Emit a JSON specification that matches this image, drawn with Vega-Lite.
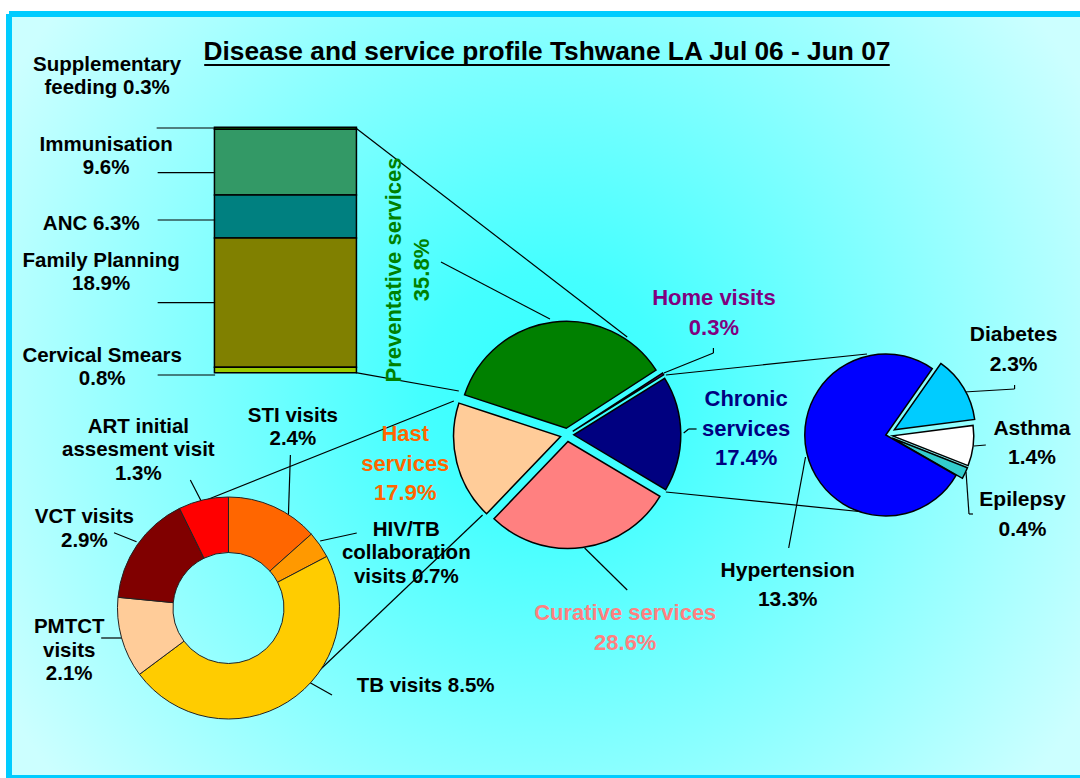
{
  "$schema": "https://vega.github.io/schema/vega-lite/v6.json",
  "width": 1071,
  "height": 764,
  "autosize": {"type": "none"},
  "padding": {"left": 9, "top": 14, "right": 0, "bottom": 0},
  "background": "#ffffff",
  "config": {
    "view": {
      "fill": {
        "gradient": "radial",
        "x1": 0.5, "y1": 0.5, "x2": 0.5, "y2": 0.5, "r1": 0, "r2": 0.58,
        "stops": [
          {"offset": 0, "color": "#33ffff"},
          {"offset": 0.2, "color": "#44ffff"},
          {"offset": 1, "color": "#ccffff"}
        ]
      },
      "stroke": "#00ccff",
      "strokeWidth": 6,
      "strokeDash": [1071, 764, 1835, 0]
    }
  },
  "datasets": {
    "main": [
      {"name": "Preventative services", "value": 35.8},
      {"name": "Home visits", "value": 0.3},
      {"name": "Chronic services", "value": 17.4},
      {"name": "Curative services", "value": 28.6},
      {"name": "Hast services", "value": 17.9}
    ],
    "chronic": [
      {"name": "Diabetes", "value": 2.3},
      {"name": "Asthma", "value": 1.4},
      {"name": "Epilepsy", "value": 0.4},
      {"name": "Hypertension", "value": 13.3}
    ],
    "hast": [
      {"name": "STI visits", "value": 2.4},
      {"name": "HIV/TB collaboration visits", "value": 0.7},
      {"name": "TB visits", "value": 8.5},
      {"name": "PMTCT visits", "value": 2.1},
      {"name": "VCT visits", "value": 2.9},
      {"name": "ART initial assesment visit", "value": 1.3}
    ],
    "prev": [
      {"name": "Supplementary feeding", "value": 0.3},
      {"name": "Immunisation", "value": 9.6},
      {"name": "ANC", "value": 6.3},
      {"name": "Family Planning", "value": 18.9},
      {"name": "Cervical Smears", "value": 0.8}
    ],
    "labelsSmall": [
      {"t": ["Supplementary", "feeding 0.3%"], "x": 103, "y": 64.5},
      {"t": ["Immunisation", "9.6%"], "x": 102, "y": 144.5},
      {"t": "ANC 6.3%", "x": 87, "y": 223.9},
      {"t": ["Family Planning", "18.9%"], "x": 97, "y": 260.5},
      {"t": ["Cervical Smears", "0.8%"], "x": 98, "y": 355.5},
      {"t": ["ART initial", "assesment visit", "1.3%"], "x": 134.5, "y": 426.9},
      {"t": ["STI visits", "2.4%"], "x": 290.5, "y": 415.5},
      {"t": ["VCT visits", "2.9%"], "x": 80, "y": 517.2},
      {"t": ["HIV/TB", "collaboration", "visits 0.7%"], "x": 405, "y": 529.9},
      {"t": ["PMTCT", "visits", "2.1%"], "x": 64.7, "y": 627.2},
      {"t": "TB visits 8.5%", "x": 424.5, "y": 685.5}
    ],
    "labelsRight": [
      {"t": ["Diabetes", "2.3%"], "x": 1018, "y": 335.4},
      {"t": ["Asthma", "1.4%"], "x": 1036.5, "y": 428.7},
      {"t": ["Epilepsy", "0.4%"], "x": 1027, "y": 500.4},
      {"t": ["Hypertension", "13.3%"], "x": 790, "y": 570.7}
    ],
    "labelsMain": [
      {"name": "Home visits", "t": ["Home visits", "0.3%"], "x": 715.5, "y": 298.4},
      {"name": "Chronic services", "t": ["Chronic", "services", "17.4%"], "x": 748, "y": 399.4},
      {"name": "Hast services", "t": ["Hast", "services", "17.9%"], "x": 404, "y": 434.1},
      {"name": "Curative services", "t": ["Curative services", "28.6%"], "x": 626, "y": 613.4}
    ],
    "labelPrev": [
      {"t": ["Preventative services", "35.8%"], "x": 393, "y": 270}
    ],
    "title": [
      {"t": "Disease and service profile Tshwane LA Jul 06 - Jun 07", "x": 547, "y": 52.2}
    ],
    "underline": [
      {"x": 201, "y": 65, "x2": 893, "y2": 65}
    ],
    "leaders": [
      {"x": 153, "y": 128, "x2": 212, "y2": 128},
      {"x": 154, "y": 172.7, "x2": 212, "y2": 172.7},
      {"x": 154, "y": 220, "x2": 212, "y2": 220},
      {"x": 154, "y": 302.7, "x2": 212, "y2": 302.7},
      {"x": 154, "y": 375, "x2": 212, "y2": 375},
      {"x": 354, "y": 128, "x2": 628, "y2": 337},
      {"x": 354, "y": 372.7, "x2": 458, "y2": 391},
      {"x": 440, "y": 262, "x2": 550, "y2": 319},
      {"x": 665, "y": 373, "x2": 715, "y2": 353},
      {"x": 715, "y": 353, "x2": 715, "y2": 348},
      {"x": 667, "y": 375, "x2": 870, "y2": 354},
      {"x": 685, "y": 433, "x2": 690, "y2": 429},
      {"x": 690, "y": 429, "x2": 698, "y2": 429},
      {"x": 667, "y": 492, "x2": 877, "y2": 513},
      {"x": 585, "y": 548, "x2": 628, "y2": 590},
      {"x": 453, "y": 401, "x2": 188, "y2": 506},
      {"x": 482, "y": 515, "x2": 305, "y2": 682},
      {"x": 303, "y": 680, "x2": 330, "y2": 695},
      {"x": 288, "y": 455, "x2": 286, "y2": 515},
      {"x": 187, "y": 480, "x2": 200, "y2": 505},
      {"x": 110, "y": 532.7, "x2": 132.7, "y2": 541.7},
      {"x": 97, "y": 638, "x2": 125, "y2": 638},
      {"x": 318, "y": 541, "x2": 355, "y2": 533},
      {"x": 968, "y": 392, "x2": 1019, "y2": 389},
      {"x": 1019, "y": 389, "x2": 1019, "y2": 385},
      {"x": 978, "y": 446, "x2": 990, "y2": 445},
      {"x": 970, "y": 472, "x2": 973, "y2": 514},
      {"x": 973, "y": 514, "x2": 977, "y2": 514},
      {"x": 808, "y": 457, "x2": 791, "y2": 548}
    ]
  },
  "resolve": {"scale": {"y": "independent", "theta": "independent", "color": "independent"}},
  "layer": [
    {
      "data": {"name": "prev"},
      "transform": [{"window": [{"op": "row_number", "as": "seq"}]}],
      "mark": {"type": "bar", "orient": "vertical", "width": 142, "stroke": "#000000", "strokeWidth": 1.5},
      "encoding": {
        "x": {"datum": 283, "type": "quantitative", "scale": {"domain": [9, 1080], "range": [0, 1071], "nice": false, "zero": false}, "axis": null},
        "y": {"field": "value", "type": "quantitative", "stack": "zero", "scale": {"domain": [0, 35.9], "range": [358.7, 113.3], "nice": false, "zero": false}, "axis": null},
        "order": {"field": "seq", "type": "quantitative", "sort": "descending"},
        "color": {"field": "name", "type": "nominal", "scale": {"domain": ["Supplementary feeding", "Immunisation", "ANC", "Family Planning", "Cervical Smears"], "range": ["#00cc00", "#339966", "#008080", "#808000", "#99cc00"]}, "legend": null}
      }
    },
    {
      "data": {"name": "leaders"},
      "mark": {"type": "rule", "stroke": "#000000", "strokeWidth": 1.2},
      "encoding": {
        "x": {"field": "x", "type": "quantitative", "scale": {"domain": [9, 1080], "range": [0, 1071], "nice": false, "zero": false}, "axis": null},
        "x2": {"field": "x2"},
        "y": {"field": "y", "type": "quantitative", "scale": {"domain": [14, 778], "range": [0, 764], "nice": false, "zero": false}, "axis": null},
        "y2": {"field": "y2"}
      }
    },
    {
      "data": {"name": "underline"},
      "mark": {"type": "rule", "stroke": "#000000", "strokeWidth": 2.2},
      "encoding": {
        "x": {"field": "x", "type": "quantitative", "scale": {"domain": [9, 1080], "range": [0, 1071], "nice": false, "zero": false}, "axis": null},
        "x2": {"field": "x2"},
        "y": {"field": "y", "type": "quantitative", "scale": {"domain": [14, 778], "range": [0, 764], "nice": false, "zero": false}, "axis": null},
        "y2": {"field": "y2"}
      }
    },
    {
      "data": {"name": "main"},
      "transform": [{"window": [{"op": "row_number", "as": "seq"}]}],
      "mark": {
        "type": "arc", "outerRadius": 107, "stroke": "#000000", "strokeWidth": 1.5,
        "xOffset": {"expr": "6.7*sin(5.030 + PI*(datum.value_start + datum.value_end)/100)"},
        "yOffset": {"expr": "-6.7*cos(5.030 + PI*(datum.value_start + datum.value_end)/100)"}
      },
      "encoding": {
        "theta": {"field": "value", "type": "quantitative", "stack": true, "scale": {"range": [5.030, 11.3132]}},
        "order": {"field": "seq", "type": "quantitative"},
        "color": {"field": "name", "type": "nominal", "scale": {"domain": ["Preventative services", "Home visits", "Chronic services", "Curative services", "Hast services"], "range": ["#008000", "#800080", "#000080", "#ff8080", "#ffcc99"]}, "legend": null},
        "x": {"datum": 567.3, "type": "quantitative", "scale": {"domain": [9, 1080], "range": [0, 1071], "nice": false, "zero": false}, "axis": null},
        "y": {"datum": 434.9, "type": "quantitative", "scale": {"domain": [14, 778], "range": [0, 764], "nice": false, "zero": false}, "axis": null}
      }
    },
    {
      "data": {"name": "chronic"},
      "transform": [{"window": [{"op": "row_number", "as": "seq"}]}],
      "mark": {
        "type": "arc", "outerRadius": 81, "stroke": "#000000", "strokeWidth": 1.5,
        "xOffset": {"expr": "(datum.name == 'Diabetes' ? 10 : datum.name == 'Hypertension' ? 0 : 7)*sin(0.6109 + PI*(datum.value_start + datum.value_end)/17.4)"},
        "yOffset": {"expr": "-(datum.name == 'Diabetes' ? 10 : datum.name == 'Hypertension' ? 0 : 7)*cos(0.6109 + PI*(datum.value_start + datum.value_end)/17.4)"}
      },
      "encoding": {
        "theta": {"field": "value", "type": "quantitative", "stack": true, "scale": {"range": [0.6109, 6.8941]}},
        "order": {"field": "seq", "type": "quantitative"},
        "color": {"field": "name", "type": "nominal", "scale": {"domain": ["Diabetes", "Asthma", "Epilepsy", "Hypertension"], "range": ["#00ccff", "#ffffff", "#33cccc", "#0000ff"]}, "legend": null},
        "x": {"datum": 889, "type": "quantitative", "scale": {"domain": [9, 1080], "range": [0, 1071], "nice": false, "zero": false}, "axis": null},
        "y": {"datum": 435, "type": "quantitative", "scale": {"domain": [14, 778], "range": [0, 764], "nice": false, "zero": false}, "axis": null}
      }
    },
    {
      "data": {"name": "hast"},
      "transform": [{"window": [{"op": "row_number", "as": "seq"}]}],
      "mark": {"type": "arc", "outerRadius": 111, "innerRadius": 55.5, "stroke": "#222222", "strokeWidth": 1},
      "encoding": {
        "theta": {"field": "value", "type": "quantitative", "stack": true},
        "order": {"field": "seq", "type": "quantitative"},
        "color": {"field": "name", "type": "nominal", "scale": {"domain": ["STI visits", "HIV/TB collaboration visits", "TB visits", "PMTCT visits", "VCT visits", "ART initial assesment visit"], "range": ["#ff6600", "#ff9900", "#ffcc00", "#ffcc99", "#800000", "#ff0000"]}, "legend": null},
        "x": {"datum": 225.5, "type": "quantitative", "scale": {"domain": [9, 1080], "range": [0, 1071], "nice": false, "zero": false}, "axis": null},
        "y": {"datum": 608, "type": "quantitative", "scale": {"domain": [14, 778], "range": [0, 764], "nice": false, "zero": false}, "axis": null}
      }
    },
    {
      "data": {"name": "labelsSmall"},
      "mark": {"type": "text", "font": "Liberation Sans", "fontWeight": "bold", "fontSize": 20.5, "lineHeight": 23.5, "align": "center", "baseline": "middle", "color": "#000000"},
      "encoding": {
        "text": {"field": "t"},
        "x": {"field": "x", "type": "quantitative", "scale": {"domain": [9, 1080], "range": [0, 1071], "nice": false, "zero": false}, "axis": null},
        "y": {"field": "y", "type": "quantitative", "scale": {"domain": [14, 778], "range": [0, 764], "nice": false, "zero": false}, "axis": null}
      }
    },
    {
      "data": {"name": "labelsRight"},
      "mark": {"type": "text", "font": "Liberation Sans", "fontWeight": "bold", "fontSize": 21, "lineHeight": 29.5, "align": "center", "baseline": "middle", "color": "#000000"},
      "encoding": {
        "text": {"field": "t"},
        "x": {"field": "x", "type": "quantitative", "scale": {"domain": [9, 1080], "range": [0, 1071], "nice": false, "zero": false}, "axis": null},
        "y": {"field": "y", "type": "quantitative", "scale": {"domain": [14, 778], "range": [0, 764], "nice": false, "zero": false}, "axis": null}
      }
    },
    {
      "data": {"name": "labelsMain"},
      "mark": {"type": "text", "font": "Liberation Sans", "fontWeight": "bold", "fontSize": 22, "lineHeight": 29.5, "align": "center", "baseline": "middle"},
      "encoding": {
        "text": {"field": "t"},
        "color": {"field": "name", "type": "nominal", "scale": {"domain": ["Home visits", "Chronic services", "Hast services", "Curative services"], "range": ["#800080", "#000080", "#ff6600", "#ff8080"]}, "legend": null},
        "x": {"field": "x", "type": "quantitative", "scale": {"domain": [9, 1080], "range": [0, 1071], "nice": false, "zero": false}, "axis": null},
        "y": {"field": "y", "type": "quantitative", "scale": {"domain": [14, 778], "range": [0, 764], "nice": false, "zero": false}, "axis": null}
      }
    },
    {
      "data": {"name": "labelPrev"},
      "mark": {"type": "text", "font": "Liberation Sans", "fontWeight": "bold", "fontSize": 22, "lineHeight": 28, "align": "center", "baseline": "middle", "angle": 270, "color": "#008000"},
      "encoding": {
        "text": {"field": "t"},
        "x": {"field": "x", "type": "quantitative", "scale": {"domain": [9, 1080], "range": [0, 1071], "nice": false, "zero": false}, "axis": null},
        "y": {"field": "y", "type": "quantitative", "scale": {"domain": [14, 778], "range": [0, 764], "nice": false, "zero": false}, "axis": null}
      }
    },
    {
      "data": {"name": "title"},
      "mark": {"type": "text", "font": "Liberation Sans", "fontWeight": "bold", "fontSize": 26.3, "align": "center", "baseline": "middle", "color": "#000000"},
      "encoding": {
        "text": {"field": "t"},
        "x": {"field": "x", "type": "quantitative", "scale": {"domain": [9, 1080], "range": [0, 1071], "nice": false, "zero": false}, "axis": null},
        "y": {"field": "y", "type": "quantitative", "scale": {"domain": [14, 778], "range": [0, 764], "nice": false, "zero": false}, "axis": null}
      }
    }
  ]
}
